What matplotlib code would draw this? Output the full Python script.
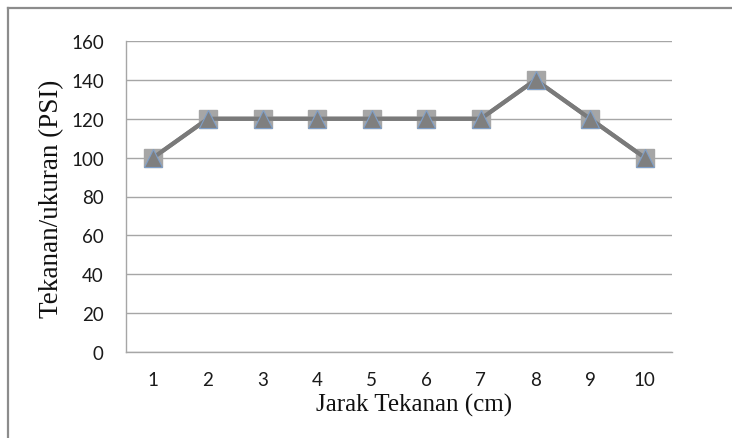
import numpy as np
import matplotlib
matplotlib.use('Agg')
from matplotlib import pyplot as plt

# jarak tekanan (cm) and measured pressure (PSI)
jarak = [1, 2, 3, 4, 5, 6, 7, 8, 9, 10]
tekanan = [100, 120, 120, 120, 120, 120, 120, 140, 120, 100]
ukuran = [100, 120, 120, 120, 120, 120, 120, 140, 120, 100]
yticks = [0, 20, 40, 60, 80, 100, 120, 140, 160]

fig = plt.figure(figsize=(7.32, 4.39), dpi=100)
ax = fig.add_axes([126/732, 1-353/439, 546/732, 311/439])

# outer chart frame (top and left edges)
fig.add_artist(plt.Line2D([8/732, 8/732], [0, 1-8.5/439], color='#8c8c8c', lw=1.6))
fig.add_artist(plt.Line2D([8/732, 1], [1-8.5/439, 1-8.5/439], color='#8c8c8c', lw=1.6))

ax.plot(jarak, tekanan, color='#7f7f7f', lw=3, marker='s', ms=12.5,
        mfc='#a6a6a6', mec='#a6a6a6', zorder=3)
ax.plot(jarak, ukuran, color='#7a7a7a', lw=3, marker='^', ms=13,
        mfc='#7f7f7f', mec='#7f9fc8', mew=0.8, zorder=4)

ax.set_xlim(0.5, 10.5)
ax.set_ylim(0, 160)
ax.set_yticks(yticks)
ax.set_xticks(jarak)
ax.yaxis.grid(True, color='#a6a6a6', lw=1)
ax.set_axisbelow(True)
for s in ['top', 'right']:
    ax.spines[s].set_visible(False)
for s in ['left', 'bottom']:
    ax.spines[s].set_color('#a6a6a6')
    ax.spines[s].set_linewidth(1)
ax.tick_params(length=0, labelsize=13.5, colors='#1a1a1a')
ax.tick_params(axis='y', pad=16)
ax.tick_params(axis='x', pad=14)
for t in ax.get_xticklabels() + ax.get_yticklabels():
    t.set_family('Lato')

ax.set_xlabel('Jarak Tekanan (cm)', family='Liberation Serif', fontsize=18,
              va='center', color='#111111')
ax.set_ylabel('Tekanan/ukuran (PSI)', family='Liberation Serif', fontsize=19.5,
              va='center', color='#111111')
ax.xaxis.set_label_coords(0.527, -0.168)
ax.yaxis.set_label_coords(-0.137, 0.497)

fig.savefig('out.png', dpi=100)
